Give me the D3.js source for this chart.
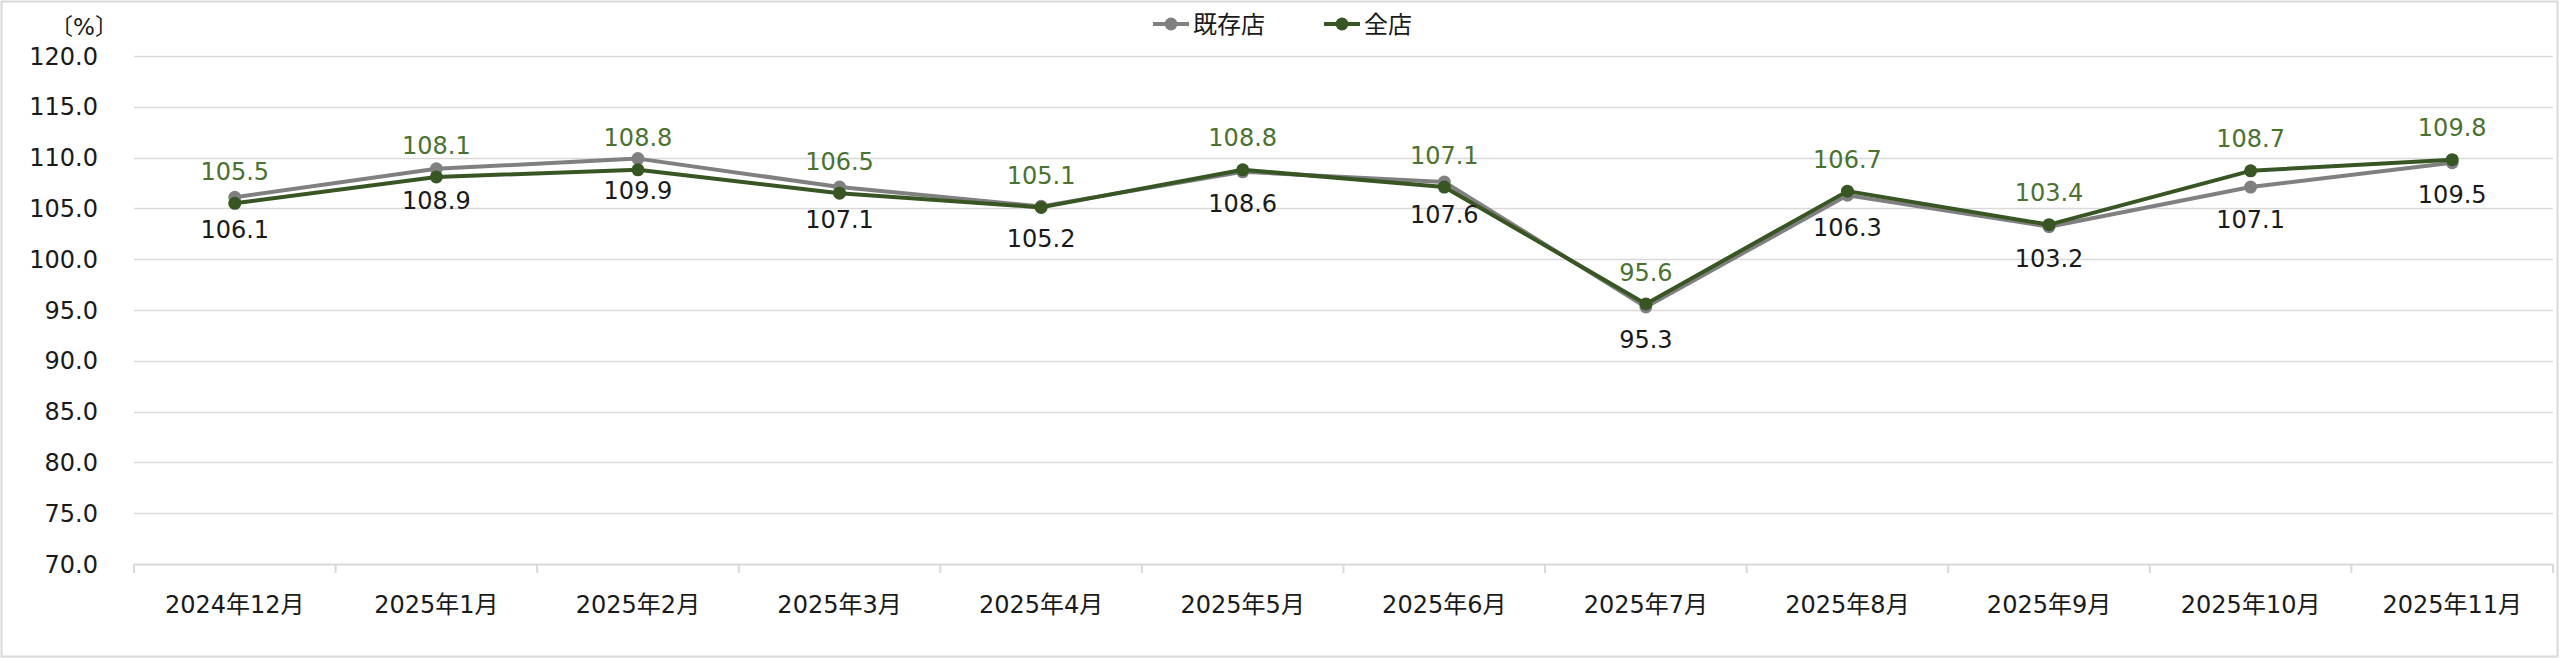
<!DOCTYPE html>
<html>
<head>
<meta charset="utf-8">
<script src="https://cdn.jsdelivr.net/npm/d3@7"></script>
<style>
  html, body { margin: 0; padding: 0; background: #fff; }
  svg text { font-family: "DejaVu Sans", "Noto Sans CJK JP", sans-serif; }
</style>
</head>
<body>
<svg id="chart"></svg>
<script>
// Data
const months = ['2024年12月', '2025年1月', '2025年2月', '2025年3月', '2025年4月', '2025年5月',
    '2025年6月', '2025年7月', '2025年8月', '2025年9月', '2025年10月', '2025年11月'];
const existingStores = [106.1, 108.9, 109.9, 107.1, 105.2, 108.6, 107.6, 95.3, 106.3, 103.2, 107.1, 109.5];
const allStores = [105.5, 108.1, 108.8, 106.5, 105.1, 108.8, 107.1, 95.6, 106.7, 103.4, 108.7, 109.8];
const yTicks = [70, 75, 80, 85, 90, 95, 100, 105, 110, 115, 120];

const series = [
    { name: '既存店', values: existingStores, color: '#808080', labelColor: '#1a1a1a', labelDy: 32 },
    { name: '全店', values: allStores, color: '#375623', labelColor: '#4a7230', labelDy: -32 }
];

// Configuration
const config = {
    width: 2560,
    height: 658,
    plot: { left: 134, right: 2553, top: 56, bottom: 564 },
    gridColor: '#d9d9d9',
    fontSize: 24
};

const svg = d3.select('#chart')
    .attr('width', config.width)
    .attr('height', config.height);

// outer frame
svg.append('rect')
    .attr('x', 1.5).attr('y', 1.5)
    .attr('width', config.width - 4).attr('height', config.height - 3)
    .attr('fill', '#fff')
    .attr('stroke', config.gridColor)
    .attr('stroke-width', 2);

const x = d3.scaleBand()
    .domain(months)
    .range([config.plot.left, config.plot.right]);

const y = d3.scaleLinear()
    .domain([70, 120])
    .range([config.plot.bottom, config.plot.top]);

// gridlines
svg.append('g')
    .selectAll('line')
    .data(yTicks.filter(t => t > 70))
    .enter()
    .append('line')
    .attr('x1', config.plot.left)
    .attr('x2', config.plot.right)
    .attr('y1', d => Math.round(y(d)) + 0.5)
    .attr('y2', d => Math.round(y(d)) + 0.5)
    .attr('stroke', config.gridColor)
    .attr('stroke-width', 1.5);

// y axis labels
svg.append('g')
    .selectAll('text')
    .data(yTicks)
    .enter()
    .append('text')
    .attr('x', 98)
    .attr('y', d => y(d))
    .attr('dy', '0.36em')
    .attr('text-anchor', 'end')
    .attr('font-size', config.fontSize)
    .attr('fill', '#1a1a1a')
    .text(d => d.toFixed(1));

// unit label
svg.append('text')
    .attr('x', 84)
    .attr('y', 27)
    .attr('dy', '0.36em')
    .attr('text-anchor', 'middle')
    .attr('font-size', 23)
    .attr('fill', '#1a1a1a')
    .text('〔%〕');

// x axis (line + tick marks between categories)
const xAxis = d3.axisBottom(x).tickSize(0).tickPadding(0);
const xg = svg.append('g')
    .attr('transform', `translate(0, ${config.plot.bottom})`)
    .call(xAxis);
xg.select('.domain').remove();
xg.selectAll('.tick text')
    .attr('y', 40)
    .attr('dy', '0.36em')
    .attr('font-size', config.fontSize)
    .attr('font-family', '"DejaVu Sans", "Noto Sans CJK JP", sans-serif')
    .attr('fill', '#1a1a1a');

xg.append('line')
    .attr('x1', config.plot.left)
    .attr('x2', config.plot.right)
    .attr('y1', 0.5).attr('y2', 0.5)
    .attr('stroke', config.gridColor)
    .attr('stroke-width', 2);

const boundaries = months.map(m => x(m)).concat([x(months[months.length - 1]) + x.bandwidth()]);
xg.selectAll('.sep')
    .data(boundaries)
    .enter()
    .append('line')
    .attr('class', 'sep')
    .attr('x1', d => d).attr('x2', d => d)
    .attr('y1', 0).attr('y2', 9)
    .attr('stroke', config.gridColor)
    .attr('stroke-width', 2);

// lines, markers, labels
const cx = i => x(months[i]) + x.bandwidth() / 2;
const line = d3.line()
    .x((d, i) => cx(i))
    .y(d => y(d));

series.forEach(s => {
    const g = svg.append('g');
    g.append('path')
        .datum(s.values)
        .attr('d', line)
        .attr('fill', 'none')
        .attr('stroke', s.color)
        .attr('stroke-width', 4)
        .attr('stroke-linejoin', 'round');
    g.selectAll('circle')
        .data(s.values)
        .enter()
        .append('circle')
        .attr('cx', (d, i) => cx(i))
        .attr('cy', d => y(d))
        .attr('r', 6.5)
        .attr('fill', s.color);
});

series.forEach(s => {
    svg.append('g')
        .selectAll('text')
        .data(s.values)
        .enter()
        .append('text')
        .attr('x', (d, i) => cx(i))
        .attr('y', d => y(d) + s.labelDy)
        .attr('dy', '0.36em')
        .attr('text-anchor', 'middle')
        .attr('font-size', config.fontSize)
        .attr('fill', s.labelColor)
        .text(d => d.toFixed(1));
});

// legend
const legend = svg.append('g');
const legendItems = [
    { s: series[0], x0: 1153 },
    { s: series[1], x0: 1324 }
];
legendItems.forEach(item => {
    legend.append('line')
        .attr('x1', item.x0).attr('x2', item.x0 + 36)
        .attr('y1', 24).attr('y2', 24)
        .attr('stroke', item.s.color)
        .attr('stroke-width', 4);
    legend.append('circle')
        .attr('cx', item.x0 + 18).attr('cy', 24)
        .attr('r', 6.5)
        .attr('fill', item.s.color);
    legend.append('text')
        .attr('x', item.x0 + 40)
        .attr('y', 24)
        .attr('dy', '0.36em')
        .attr('font-size', config.fontSize)
        .attr('fill', '#1a1a1a')
        .text(item.s.name);
});
</script>
</body>
</html>
